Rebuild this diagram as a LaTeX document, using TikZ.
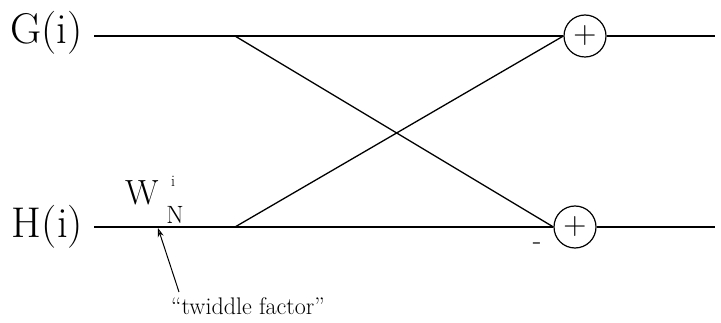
\documentclass[tikz,border=0pt]{standalone}
\usetikzlibrary{arrows.meta}
\begin{document}
\begin{tikzpicture}[x=1pt,y=-1pt,
  wire/.style={line width=1.3pt},
  sumnode/.style={circle,draw,line width=1.2pt,minimum size=42pt,inner sep=0pt,
    font=\fontsize{32}{32}\selectfont},
  biglabel/.style={inner sep=0pt,anchor=base west,font=\fontsize{43}{46}\selectfont},
  ann/.style={line width=1pt,-{Stealth[length=9pt,width=6pt,open]}}]
\useasboundingbox (0,0) rectangle (721,323);
% labels
\node[biglabel] (gl) at (10,44) {G(i)};
\node[biglabel] (hl) at (11,238) {H\kern1pt(i)};
% adders
\node[sumnode] (c1) at (585,36) {+};
\node[sumnode] (c2) at (575,227) {+};
% coordinates
\coordinate (gs) at (94,36);
\coordinate (hs) at (94,227);
\coordinate (gb) at (235,36);
\coordinate (hb) at (235,227);
\coordinate (ge) at (715,36);
\coordinate (he) at (715,227);
% wires
\draw[wire] (gs) -- (c1.west);
\draw[wire] (hs) -- (c2.west);
\draw[wire] (gb) -- (c2.west);
\draw[wire] (hb) -- (c1.west);
\draw[wire] (c1.east) -- (ge);
\draw[wire] (c2.east) -- (he);
% minus sign
\node[inner sep=0pt,font=\fontsize{28}{28}\selectfont] (minus) at (537,246) {-};
% twiddle factor
\node[inner sep=0pt,anchor=base,font=\fontsize{35}{35}\selectfont] (w) at (142,205) {W};
\node[inner sep=0pt,anchor=base,font=\fontsize{16}{16}\selectfont] (wi) at (173,187) {i};
\node[inner sep=0pt,anchor=base,font=\fontsize{25}{25}\selectfont] (wn) at (175,224) {N};
\node[inner sep=0pt,anchor=base west,font=\fontsize{24}{24}\selectfont] (tw) at (171,315) {``twiddle factor''};
\coordinate (tip) at (158,228);
\coordinate (tail) at (179,292);
\draw[ann] (tail) -- (tip);
\end{tikzpicture}
\end{document}
